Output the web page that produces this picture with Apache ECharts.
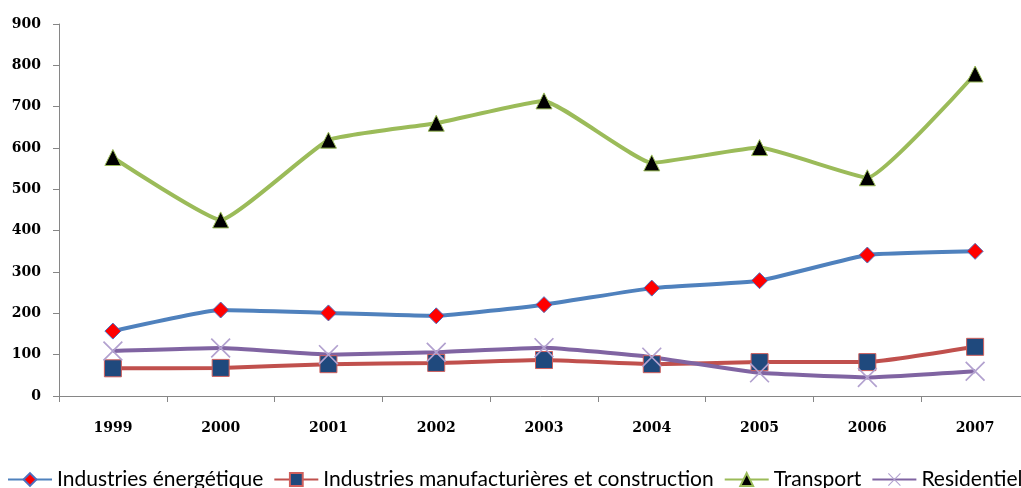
<!DOCTYPE html>
<html><head><meta charset="utf-8">
<script src="https://cdn.jsdelivr.net/npm/echarts@6/dist/echarts.min.js"></script>
<style>html,body{margin:0;padding:0;background:#fff}#c{width:1021px;height:488px}</style>
</head><body><div id="c"></div>
<script>
const years = ['1999','2000','2001','2002','2003','2004','2005','2006','2007'];
const energie = [157, 208, 201, 194, 221, 261, 279, 341, 350];
const manuf = [67, 68, 77, 80, 87, 77, 82, 82, 119];
const transport = [577, 426, 619, 660, 714, 564, 601, 528, 779];
const residentiel = [109, 116, 100, 106, 117, 94, 56, 45, 60];
const names = ['Industries énergétique','Industries manufacturières et construction','Transport','Residentiel'];

const crossPath = 'path://M0,0.6L0.6,0L5,4.4L9.4,0L10,0.6L5.6,5L10,9.4L9.4,10L5,5.6L0.6,10L0,9.4L4.4,5Z';
const chart = echarts.init(document.getElementById('c'));
const axisFont = {fontFamily:'DejaVu Serif', fontWeight:'bold', fontSize:14, color:'#000'};
function mk(name, data, color, symbol, size, fill, border, bw){
  return {name, type:'line', data, smooth:0.12, symbol, symbolSize:size,
    lineStyle:{color, width:4}, itemStyle:{color:fill, borderColor:border, borderWidth:bw},
    color, z:2};
}
chart.setOption({
  animation:false,
  grid:{left:59, width:970, top:24, height:372, outerBoundsMode:'none', containLabel:false},
  legend:{top:464, left:2, width:1400, itemWidth:44, itemHeight:16, itemGap:10,
    textStyle:{fontFamily:'Lato', fontSize:21, color:'#000'},
    data:names},
  xAxis:{type:'category', data:years, boundaryGap:true,
    axisLine:{lineStyle:{color:'#868686', width:1}},
    axisTick:{show:true, length:6, lineStyle:{color:'#868686'}},
    axisLabel:Object.assign({margin:25}, axisFont)},
  yAxis:{type:'value', min:0, max:900, interval:100,
    axisLine:{show:true, lineStyle:{color:'#868686'}},
    axisTick:{show:true, length:6, lineStyle:{color:'#868686'}},
    splitLine:{show:false},
    axisLabel:Object.assign({margin:18}, axisFont)},
  series:[
    mk(names[0], energie, '#4F81BD', 'diamond', 16, '#FF0000', '#4F6FBD', 1),
    mk(names[1], manuf, '#C0504D', 'rect', 17, '#1F497D', '#D0605D', 1),
    mk(names[2], transport, '#9BBB59', 'triangle', 16, '#000000', '#9BBB59', 1),
    mk(names[3], residentiel, '#8064A2', crossPath, 20, '#B2A1CF', '#B2A1CF', 0)
  ]
});
</script></body></html>
